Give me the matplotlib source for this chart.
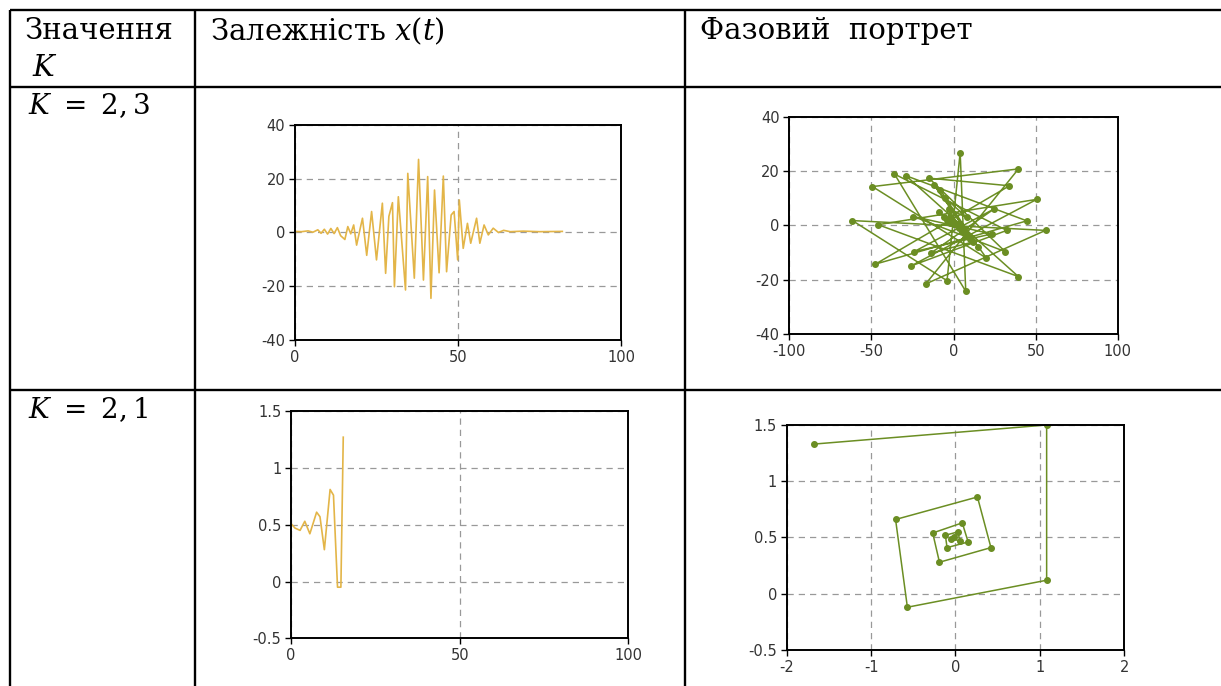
import matplotlib as mpl
import matplotlib.pyplot as plt

mpl.rcParams['font.family'] = ['DejaVu Serif']
mpl.rcParams['mathtext.fontset'] = 'dejavuserif'
mpl.rcParams['axes.unicode_minus'] = False

# --- K = 2,3 : x(t)
t1 = [0, 2, 4, 5.5, 7, 8, 9, 10, 11, 12, 13, 14, 15.3, 16.2, 17.1, 18, 18.9, 20, 20.7, 22,
      23.5, 25, 26.8, 27.8, 28.8, 29.9, 30.5, 31.7, 33.9, 34.6, 36.6, 37.9, 39.4, 40.7, 41.7,
      42.8, 44.2, 45.5, 46.5, 47.9, 48.8, 49.9, 50.4, 51.6, 52.9, 53.9, 55.7, 56.7, 58, 59.3,
      60.8, 62.4, 64, 66, 70, 75, 82]
x1 = [0.4, 0.3, 0.6, 0.1, 1.0, -0.3, 1.2, -0.6, 1.5, -0.4, 1.8, -1.2, -2.6, 2.2, -0.5, 2.8,
      -4.7, 1.5, 5.3, -8.5, 7.8, -10.2, 10.9, -15.2, 6.0, 11.1, -20.2, 13.3, -21.4, 22.0,
      -17.0, 27.2, -17.7, 20.8, -24.5, 15.8, -15.0, 21.0, -14.6, 6.5, 7.8, -10.2, 12.1, -5.9,
      3.4, -4.0, 5.3, -4.0, 2.8, -0.9, 1.6, 0.0, 0.8, 0.3, 0.5, 0.3, 0.4]

# --- K = 2,3 : phase portrait
v1 = [0, 2, -2, 3, -4, 5, -6, 8, -9, 12, -14, 24.7, -24, 23.2, -24.5, 31.4, -15, 34, -47.6,
      44.6, -29, 39.5, -46, 50.6, -26, 32.4, -36, 7.4, 4, -4, -61.6, 56, -17, 39.5, -49.4,
      20, -12, 15, -8, 10, -5, 8, -3, 5, -2, 3, -1, 1, 0]
p1 = [0.5, 0, 1, -1, 2, -2, 3, -4, 5, -6, -10.2, 6.1, -9.6, -3.1, 3.3, -9.6, 17.4, 14.6,
      -14.2, 1.7, 18.3, -18.8, 0.3, 9.6, -14.9, -1.8, 18.9, -24.2, 26.8, -20.3, 1.8, -1.8,
      -21.5, 20.8, 14.3, -12, 15, -8, 13, -5, 10, 3, 6, -2, 3, 0, 1, 0.5, 0.5]

# --- K = 2,1 : x(t)
t2 = [0, 1.2, 2.7, 4.1, 5.6, 7.6, 8.6, 9.9, 11.6, 12.6, 13.8, 14.8, 15.5]
x2 = [0.51, 0.47, 0.45, 0.53, 0.42, 0.61, 0.57, 0.28, 0.81, 0.76, -0.05, -0.05, 1.27]

# --- K = 2,1 : phase portrait
v2 = [-0.02, -0.05, 0.05, 0.03, -0.12, -0.10, 0.15, 0.08, -0.27, -0.19, 0.42, 0.26, -0.71,
      -0.57, 1.08, 1.08, -1.68]
p2 = [0.50, 0.49, 0.47, 0.55, 0.52, 0.41, 0.46, 0.63, 0.54, 0.28, 0.41, 0.86, 0.66,
      -0.12, 0.12, 1.50, 1.33]

W, H = 1221, 686
fig = plt.figure(figsize=(W / 100, H / 100), dpi=100)

# рамка таблиці в пікселях
bg = fig.add_axes([0, 0, 1, 1])
bg.set_xlim(0, W)
bg.set_ylim(H, 0)
bg.axis('off')
lw = 1.7
for y in [10, 87, 390]:
    bg.plot([10, W], [y, y], color='black', lw=lw, solid_capstyle='butt')
for x in [10, 195, 685]:
    bg.plot([x, x], [10, H], color='black', lw=lw, solid_capstyle='butt')

bg.text(24, 31, 'Значення', fontsize=21, va='center')
bg.text(32, 68, r'$K$', fontsize=21, va='center')
bg.text(210, 31, r'Залежність $x(t)$', fontsize=21, va='center')
bg.text(700, 31, 'Фазовий  портрет', fontsize=21, va='center')
bg.text(28, 106, r'$K\ =\ 2,3$', fontsize=20, va='center')
bg.text(28, 410, r'$K\ =\ 2,1$', fontsize=20, va='center')

ts_col = '#E3B548'
ph_col = '#6B8E23'


def style(ax, xt, yt, xl, yl):
    ax.set_xlim(*xl)
    ax.set_ylim(*yl)
    ax.set_xticks(xt)
    ax.set_yticks(yt)
    ax.grid(True, color='#999999', linestyle=(0, (5, 4)), linewidth=0.9)
    ax.tick_params(direction='out', length=4, width=1, labelsize=10.5,
                   labelcolor='#333333', pad=3)
    for lab in ax.get_xticklabels() + ax.get_yticklabels():
        lab.set_family('DejaVu Sans')
    for s in ax.spines.values():
        s.set_linewidth(1.4)


ax1 = fig.add_axes([0.2416, 0.5044, 0.267, 0.3134])
ax1.plot(t1, x1, color=ts_col, lw=1.2)
style(ax1, [0, 50, 100], [-40, -20, 0, 20, 40], (0, 100), (-40, 40))

ax2 = fig.add_axes([0.6465, 0.5127, 0.269, 0.3172])
ax2.plot(v1, p1, color=ph_col, lw=1.1, marker='o', ms=4)
style(ax2, [-100, -50, 0, 50, 100], [-40, -20, 0, 20, 40], (-100, 100), (-40, 40))

ax3 = fig.add_axes([0.2383, 0.0695, 0.2763, 0.3313])
ax3.plot(t2, x2, color=ts_col, lw=1.2)
style(ax3, [0, 50, 100], [-0.5, 0, 0.5, 1, 1.5], (0, 100), (-0.5, 1.5))
ax3.set_yticklabels(['-0.5', '0', '0.5', '1', '1.5'])

ax4 = fig.add_axes([0.6443, 0.0525, 0.2765, 0.328])
ax4.plot(v2, p2, color=ph_col, lw=1.1, marker='o', ms=4)
style(ax4, [-2, -1, 0, 1, 2], [-0.5, 0, 0.5, 1, 1.5], (-2, 2), (-0.5, 1.5))
ax4.set_yticklabels(['-0.5', '0', '0.5', '1', '1.5'])

fig.savefig('out.png', dpi=100)
